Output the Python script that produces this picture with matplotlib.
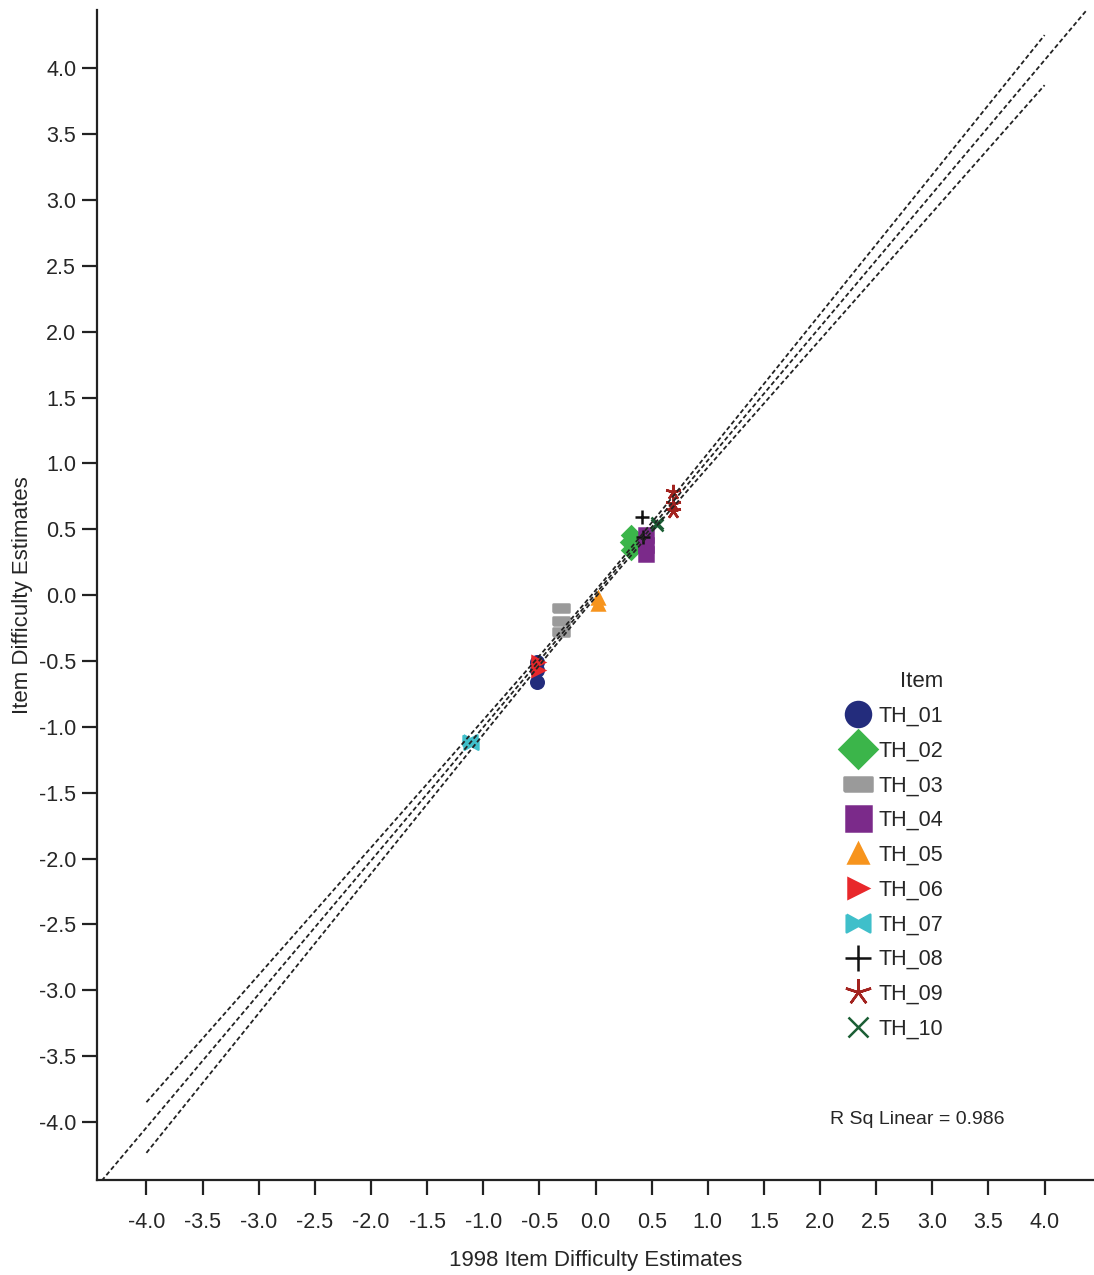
import numpy as np
from matplotlib import pyplot as plt
from matplotlib.lines import Line2D

plt.rcParams['font.family'] = ['Liberation Sans', 'DejaVu Sans']

# Item difficulty estimates (x = 1998 estimates, y = current)
items = ['TH_01', 'TH_02', 'TH_03', 'TH_04', 'TH_05',
         'TH_06', 'TH_07', 'TH_08', 'TH_09', 'TH_10']
x_vals = [
    [-0.52, -0.52, -0.52],
    [0.32, 0.31, 0.32],
    [-0.31, -0.31, -0.31],
    [0.45, 0.45, 0.45],
    [0.02, 0.02],
    [-0.51, -0.51],
    [-1.12, -1.11],
    [0.41, 0.42],
    [0.69, 0.69, 0.69],
    [0.55, 0.55],
]
y_vals = [
    [-0.51, -0.57, -0.66],
    [0.46, 0.40, 0.34],
    [-0.10, -0.20, -0.28],
    [0.46, 0.38, 0.31],
    [-0.02, -0.07],
    [-0.51, -0.57],
    [-1.10, -1.13],
    [0.59, 0.44],
    [0.78, 0.69, 0.64],
    [0.55, 0.53],
]
r_sq_text = 'R Sq Linear = 0.986'
# half width of the confidence band at x = +/-4
band_half_at_4 = 0.19
ticks = [-4.0, -3.5, -3.0, -2.5, -2.0, -1.5, -1.0, -0.5,
         0.0, 0.5, 1.0, 1.5, 2.0, 2.5, 3.0, 3.5, 4.0]

colors = ['#232c7c', '#3bb54a', '#9a9a9a', '#7b2a8a', '#f7941d',
          '#e8282b', '#3fbfca', '#111111', '#a3231f', '#1b5e35']

rect = [(-1, -0.5), (1, -0.5), (1, 0.5), (-1, 0.5), (-1, -0.5)]
bowtie = [(-1, 0.75), (0, 0.2), (1, 0.75), (1, -0.75), (0, -0.2), (-1, -0.75), (-1, 0.75)]
markers = ['o', 'D', rect, 's', '^', '>', bowtie, '+', (5, 2, 0), 'x']
plot_sizes = [9, 9, 11, 10, 9, 9, 10, 10, 11, 9]
legend_sizes = [18, 19, 20, 18, 15, 15, 17, 19, 19, 14]
txt = '#262626'

fig = plt.figure(figsize=(10.94, 12.75), dpi=100)
ax = fig.add_axes([0.0887, 0.0745, 0.9113, 0.9175])

lo, hi = -4.44, 4.44
ax.set_xlim(lo, hi)
ax.set_ylim(lo, hi)

# linear fit with mean confidence bands (shape from the points)
xs = np.concatenate([np.array(v) for v in x_vals])
ys = np.concatenate([np.array(v) for v in y_vals])
n = len(xs)
slope, inter = np.polyfit(xs, ys, 1)
sxx = np.sum((xs - xs.mean()) ** 2)

def band_shape(x):
    return np.sqrt(1.0 / n + (x - xs.mean()) ** 2 / sxx)

scale = band_half_at_4 / band_shape(4.0)

dash = (0, (2.5, 1.5))
xf = np.linspace(lo, hi, 50)
ax.plot(xf, slope * xf + inter, color='#222222', lw=1.3, ls=dash, zorder=3)
xb = np.linspace(-4.0, 4.0, 100)
half = scale * band_shape(xb)
ax.plot(xb, slope * xb + inter + half, color='#222222', lw=1.3, ls=dash, zorder=3)
ax.plot(xb, slope * xb + inter - half, color='#222222', lw=1.3, ls=dash, zorder=3)

handles = []
for i, name in enumerate(items):
    ax.plot(x_vals[i], y_vals[i], linestyle='none', marker=markers[i],
            color=colors[i], markersize=plot_sizes[i], markeredgewidth=1.8, zorder=2)
    handles.append(Line2D([], [], linestyle='none', marker=markers[i], color=colors[i],
                          markersize=legend_sizes[i], markeredgewidth=1.8, label=name))

leg = fig.legend(handles=handles, title='Item', loc='upper left',
                 bbox_to_anchor=(0.752, 0.489), frameon=False, fontsize=15.5,
                 title_fontsize=16, labelspacing=0.64, handletextpad=0.2,
                 handlelength=1.5, alignment='right')
for t in leg.get_texts():
    t.set_color(txt)
leg.get_title().set_color(txt)

ax.text(2.09, -3.98, r_sq_text, fontsize=14, va='center', ha='left', color=txt)

for side in ['top', 'right']:
    ax.spines[side].set_visible(False)
for side in ['left', 'bottom']:
    ax.spines[side].set_linewidth(1.6)
    ax.spines[side].set_color('#222222')

ax.set_xticks(ticks)
ax.set_yticks(ticks)
ax.set_xticklabels([f'{t:.1f}' for t in ticks])
ax.set_yticklabels([f'{t:.1f}' for t in ticks])
ax.tick_params(direction='out', length=11, width=1.6, colors='#222222',
               labelcolor=txt, labelsize=15.5, pad=4)
ax.tick_params(axis='x', pad=12)

ax.set_xlabel('1998 Item Difficulty Estimates', fontsize=16, color=txt, labelpad=12)
ax.set_ylabel('Item Difficulty Estimates', fontsize=16, color=txt)
ax.yaxis.set_label_coords(-0.064, 0.5)

fig.savefig('out.png', dpi=100)
